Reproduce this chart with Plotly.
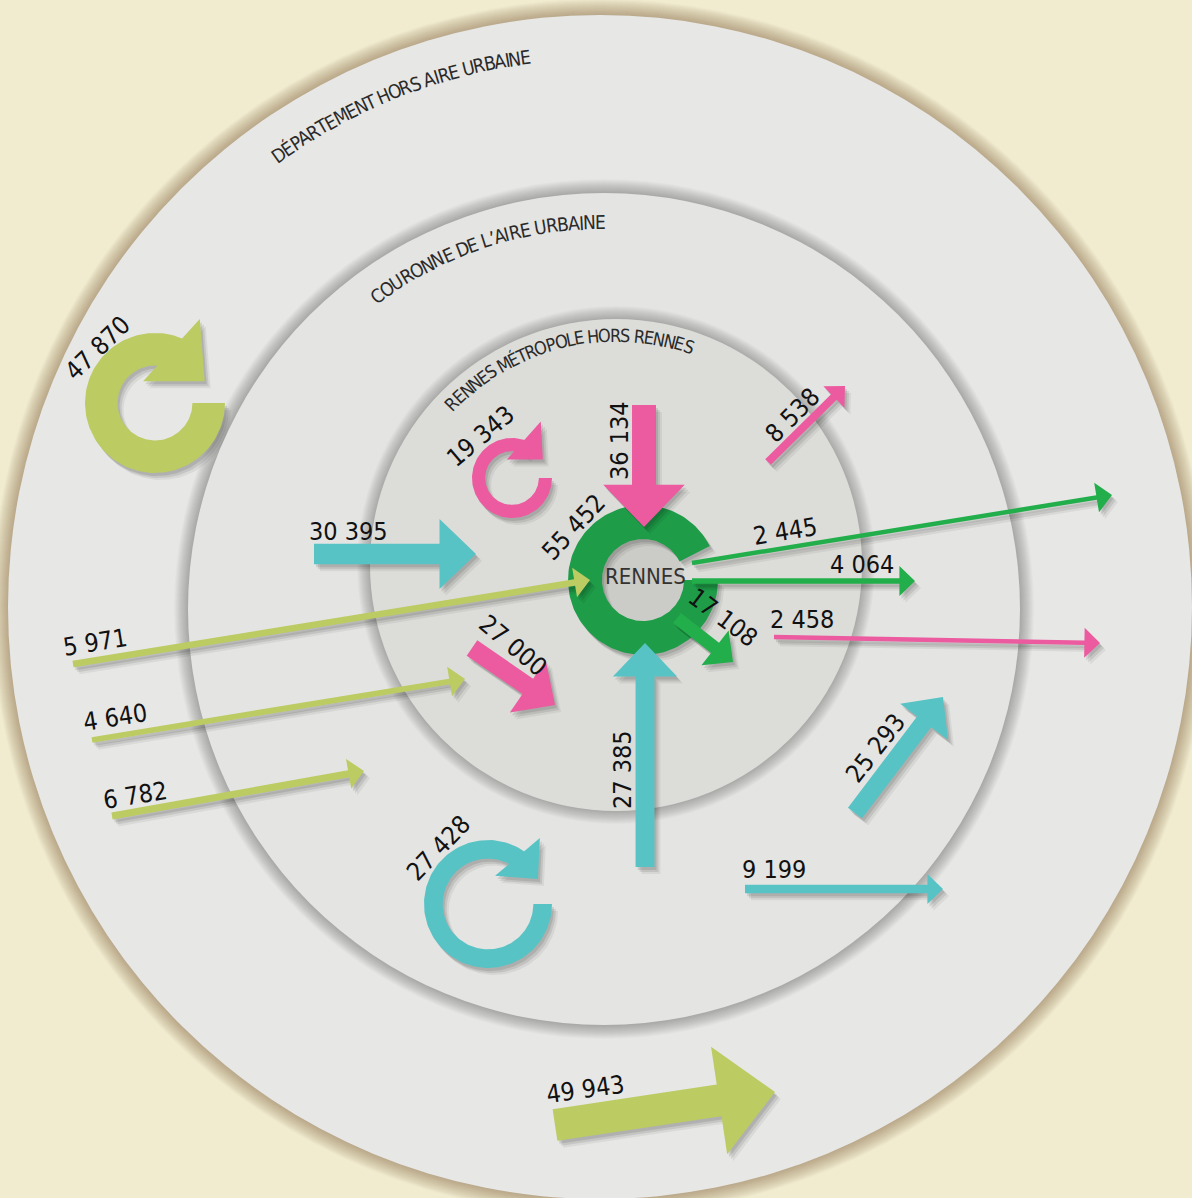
import math
import plotly.graph_objects as go

# ---------------- data ----------------
flow_labels = ["30 395", "27 385", "25 293", "9 199",
               "36 134", "27 000", "8 538", "2 458",
               "5 971", "4 640", "6 782", "49 943",
               "2 445", "4 064", "17 108"]
flow_values = [30395, 27385, 25293, 9199,
               36134, 27000, 8538, 2458,
               5971, 4640, 6782, 49943,
               2445, 4064, 17108]
flow_groups = ["teal"] * 4 + ["pink"] * 4 + ["lime"] * 4 + ["green"] * 3

loop_labels = ["47 870", "27 428", "19 343"]
loop_values = [47870, 27428, 19343]
loop_groups = ["lime", "teal", "pink"]

hub_label = "55 452"
hub_value = 55452
hub_name = "RENNES"

zone_labels = ["DÉPARTEMENT HORS AIRE URBAINE",
               "COURONNE DE L’AIRE URBAINE",
               "RENNES MÉTROPOLE HORS RENNES"]

# ---------------- styling & layout geometry ----------------
W, H = 1192, 1198
BG = "#f1ecd0"
COLORS = {"teal": "#57c3c5", "pink": "#ec5a9f", "lime": "#bccb62",
          "green": "#22ae4a", "hub": "#1e9c48"}
FONT = "Liberation Sans Narrow, Arial Narrow, DejaVu Sans Condensed, Roboto, sans-serif"
NUM_SIZE = 25
TXT = "#111111"

# zone discs: cx, cy, r, fill, halo colour, halo steps
zones = [
    (600, 607, 592, "#e7e7e6", "rgba(95,85,45,0.028)", 16),
    (604, 609, 416, "#e4e4e3", "rgba(0,0,0,0.02)", 14),
    (616, 565, 246, "#dcdcd9", "rgba(0,0,0,0.02)", 13),
]
# curved zone names: cx, cy, radius, start angle, end angle, font size
zone_text_arcs = [
    (600, 607, 555, 126.0, 97.2, 19),
    (604, 609, 387, 126.8, 89.7, 19),
    (616, 565, 230, 136.8, 70.4, 18),
]

# straight arrows: tail, tip (pixel space of the drawing)
arrow_paths = {
    "30 395": ((314, 554), (476, 554)),
    "27 385": ((645, 867), (645, 643)),
    "25 293": ((855, 813), (943, 697)),
    "9 199": ((745, 889), (943, 889)),
    "36 134": ((644, 405), (644, 527)),
    "27 000": ((472, 648), (555, 705)),
    "8 538": ((768, 462), (845, 386)),
    "2 458": ((774, 637), (1100, 643)),
    "5 971": ((73, 664), (590, 580)),
    "4 640": ((92, 740), (465, 679)),
    "6 782": ((112, 816), (364, 771)),
    "49 943": ((555, 1125), (775, 1092)),
    "2 445": ((692, 563), (1112, 495)),
    "4 064": ((692, 581), (915, 581)),
    "17 108": ((677, 618), (733, 662)),
}
arrow_label_pos = {
    "30 395": (348, 531, 0), "27 385": (622, 770, -90), "25 293": (875, 748, -52),
    "9 199": (774, 869, 0), "36 134": (619, 441, -90), "27 000": (513, 645, 40),
    "8 538": (792, 415, -45), "2 458": (802, 619, 0), "5 971": (95, 642, -9),
    "4 640": (115, 717, -9), "6 782": (135, 795, -9), "49 943": (585, 1089, -8),
    "2 445": (785, 531, -9), "4 064": (862, 564, 0), "17 108": (723, 617, 37),
}
# loops: cx, cy, outer radius, arc end angle, head triangle (normalised by r_out)
loop_geom = {
    "47 870": (155, 403, 70, 62, [(-0.17, -0.31), (0.64, -1.20), (0.71, -0.31)]),
    "27 428": (488, 904, 64, 52, [(0.11, -0.44), (0.81, -1.03), (0.78, -0.39)]),
    "19 343": (512, 478, 40, 60, [(-0.13, -0.46), (0.72, -1.41), (0.77, -0.46)]),
}
loop_label_pos = {"47 870": (97, 348, -44), "27 428": (438, 848, -46), "19 343": (480, 436, -40)}
hub_geom = (643, 580, 75, 41, 27)  # cx, cy, r_out, r_in, gap end angle (gap 0..27 deg)
hub_label_pos = (573, 527, -47)

# Arial-like relative advance widths for curved text spacing
CW = {"A": 667, "B": 667, "C": 722, "D": 722, "E": 667, "É": 667, "F": 611, "G": 778,
      "H": 722, "I": 278, "L": 556, "M": 833, "N": 722, "O": 778, "P": 667, "R": 722,
      "S": 667, "T": 611, "U": 722, " ": 278, "’": 260, "'": 220}


def shaft_width(v):
    return 3 + v * 0.00058


def ring_points(cx, cy, r_out, r_in, a0, a1, n=160):
    xs, ys = [], []
    for i in range(n + 1):
        t = math.radians(a0 + (a1 - a0) * i / n)
        xs.append(cx + r_out * math.cos(t))
        ys.append(cy - r_out * math.sin(t))
    for i in range(n + 1):
        t = math.radians(a1 + (a0 - a1) * i / n)
        xs.append(cx + r_in * math.cos(t))
        ys.append(cy - r_in * math.sin(t))
    xs.append(xs[0]); ys.append(ys[0])
    return xs, ys


def arrow_points(tail, tip, w, hw, hl):
    (x0, y0), (x1, y1) = tail, tip
    L = math.hypot(x1 - x0, y1 - y0)
    ux, uy = (x1 - x0) / L, (y1 - y0) / L
    nx, ny = -uy, ux
    bx, by = x1 - ux * hl, y1 - uy * hl
    pts = [(x0 + nx * w / 2, y0 + ny * w / 2), (bx + nx * w / 2, by + ny * w / 2),
           (bx + nx * hw / 2, by + ny * hw / 2), (x1, y1),
           (bx - nx * hw / 2, by - ny * hw / 2), (bx - nx * w / 2, by - ny * w / 2),
           (x0 - nx * w / 2, y0 - ny * w / 2), (x0 + nx * w / 2, y0 + ny * w / 2)]
    return [p[0] for p in pts], [p[1] for p in pts]


fig = go.Figure()
shapes = []
annotations = []


def poly(xs, ys, color, shadow=True):
    if shadow:
        for (dx, dy, a) in [(6, 7, 0.06), (4, 5, 0.09), (2, 3, 0.1)]:
            fig.add_trace(go.Scatter(x=[x + dx for x in xs], y=[y + dy for y in ys],
                                     mode="lines", fill="toself", line=dict(width=0),
                                     fillcolor=f"rgba(0,0,0,{a})", hoverinfo="skip"))
    fig.add_trace(go.Scatter(x=xs, y=ys, mode="lines", fill="toself", line=dict(width=0),
                             fillcolor=color, hoverinfo="skip"))


# zone discs with soft halos
for (cx, cy, r, fill, halo, steps) in zones:
    for k in range(steps, 0, -1):
        shapes.append(dict(type="circle", xref="x", yref="y", layer="below",
                           x0=cx - r - k, x1=cx + r + k, y0=cy - r - k, y1=cy + r + k,
                           fillcolor=halo, line=dict(width=0)))
    shapes.append(dict(type="circle", xref="x", yref="y", layer="below",
                       x0=cx - r, x1=cx + r, y0=cy - r, y1=cy + r,
                       fillcolor=fill, line=dict(width=0)))

# hub hole
hcx, hcy, hro, hri, hgap = hub_geom
shapes.append(dict(type="circle", xref="x", yref="y", layer="below",
                   x0=hcx - hri, x1=hcx + hri, y0=hcy - hri, y1=hcy + hri,
                   fillcolor="#cbcbc7", line=dict(width=0)))

# hub ring (Rennes)
xs, ys = ring_points(hcx, hcy, hro, hri, hgap, 360)
poly(xs, ys, COLORS["hub"])

# loops
for lab, val, grp in zip(loop_labels, loop_values, loop_groups):
    cx, cy, ro, aend, tri = loop_geom[lab]
    ri = ro - val * 0.00068
    xs, ys = ring_points(cx, cy, ro, ri, 0, aend - 360)
    poly(xs, ys, COLORS[grp])
    tx = [cx + a * ro for a, b in tri] + [cx + tri[0][0] * ro]
    ty = [cy + b * ro for a, b in tri] + [cy + tri[0][1] * ro]
    poly(tx, ty, COLORS[grp])
    lx, ly, ang = loop_label_pos[lab]
    annotations.append(dict(x=lx, y=ly, text=lab, textangle=ang, showarrow=False,
                            font=dict(family=FONT, size=NUM_SIZE, color=TXT)))

# straight arrows
for lab, val, grp in zip(flow_labels, flow_values, flow_groups):
    tail, tip = arrow_paths[lab]
    w = shaft_width(val)
    hw = max(30, 3.4 * w)
    hl = 0.52 * hw
    xs, ys = arrow_points(tail, tip, w, hw, hl)
    poly(xs, ys, COLORS[grp])
    lx, ly, ang = arrow_label_pos[lab]
    annotations.append(dict(x=lx, y=ly, text=lab, textangle=ang, showarrow=False,
                            font=dict(family=FONT, size=NUM_SIZE, color=TXT)))

# hub labels
annotations.append(dict(x=hcx + 2, y=hcy - 4, text=hub_name, showarrow=False,
                        font=dict(family=FONT, size=22, color="#333333")))
annotations.append(dict(x=hub_label_pos[0], y=hub_label_pos[1], text=hub_label,
                        textangle=hub_label_pos[2], showarrow=False,
                        font=dict(family=FONT, size=NUM_SIZE, color=TXT)))

# curved zone names (one annotation per character)
for text, (cx, cy, r, a0, a1, fs) in zip(zone_labels, zone_text_arcs):
    widths = [CW.get(ch, 650) for ch in text]
    total = sum(widths)
    cum = 0
    for ch, wd in zip(text, widths):
        mid = cum + wd / 2
        th = a0 - (a0 - a1) * mid / total
        cum += wd
        if ch == " ":
            continue
        t = math.radians(th)
        annotations.append(dict(x=cx + r * math.cos(t), y=cy - r * math.sin(t), text=ch,
                                textangle=90 - th, showarrow=False,
                                xanchor="center", yanchor="middle",
                                font=dict(family=FONT, size=fs, color="#2a2a2a")))

fig.update_layout(
    width=W, height=H, margin=dict(l=0, r=0, t=0, b=0),
    paper_bgcolor=BG, plot_bgcolor=BG, showlegend=False, hovermode=False,
    xaxis=dict(range=[0, W], visible=False, fixedrange=True),
    yaxis=dict(range=[H, 0], visible=False, fixedrange=True),
    shapes=shapes, annotations=annotations,
)

fig.write_html("out.html", config={"displayModeBar": False},
               post_script="document.body.style.margin='0';document.body.style.overflow='hidden';")
